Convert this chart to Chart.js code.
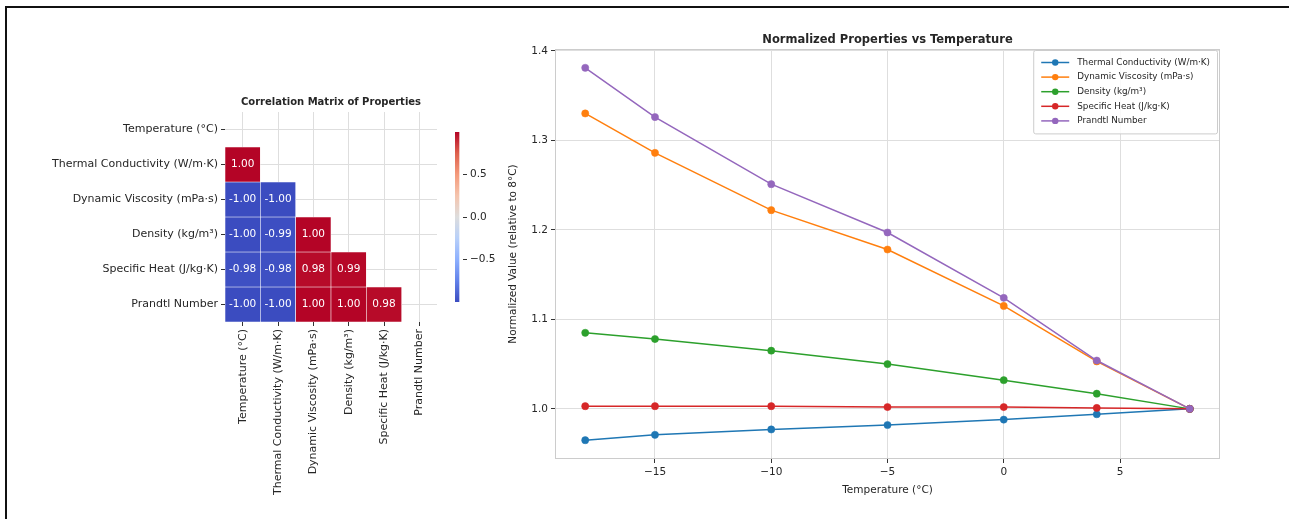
<!DOCTYPE html>
<html>
<head>
<meta charset="utf-8">
<script src="https://cdn.jsdelivr.net/npm/chart.js@4.4.1/dist/chart.umd.min.js"></script>
<style>
  html, body { margin: 0; padding: 0; background: #fff; }
  #page { position: relative; width: 1289px; height: 519px; overflow: hidden; }
  #frame { position: absolute; left: 5px; top: 6px; width: 1300px; height: 530px;
           border-top: 2px solid #111; border-left: 2px solid #111; }
  canvas { position: absolute; }
</style>
</head>
<body>
<div id="page">
  <div id="frame"></div>
  <canvas id="heatmap" width="400" height="417" style="left:40px;top:85px"></canvas>
  <canvas id="colorbar" width="45" height="190" style="left:450px;top:122px"></canvas>
  <canvas id="lines" width="735" height="480" style="left:500px;top:20px"></canvas>
</div>
<script>
// ---- data ----
const props = ['Temperature (°C)', 'Thermal Conductivity (W/m·K)', 'Dynamic Viscosity (mPa·s)',
               'Density (kg/m³)', 'Specific Heat (J/kg·K)', 'Prandtl Number'];

// lower triangle of the correlation matrix (diagonal masked)
const corrThermal = [1.00];
const corrViscosity = [-1.00, -1.00];
const corrDensity = [-1.00, -0.99, 1.00];
const corrSpecificHeat = [-0.98, -0.98, 0.98, 0.99];
const corrPrandtl = [-1.00, -1.00, 1.00, 1.00, 0.98];
const corrRows = [[], corrThermal, corrViscosity, corrDensity, corrSpecificHeat, corrPrandtl];
const colorbarTicks = [-0.5, 0.0, 0.5];

const temps = [-18, -15, -10, -5, 0, 4, 8];
const thermalNorm = [0.965, 0.971, 0.977, 0.982, 0.988, 0.994, 1.000];
const viscosityNorm = [1.330, 1.286, 1.222, 1.178, 1.115, 1.053, 1.000];
const densityNorm = [1.085, 1.078, 1.065, 1.050, 1.032, 1.017, 1.000];
const specificHeatNorm = [1.003, 1.003, 1.003, 1.002, 1.002, 1.001, 1.000];
const prandtlNorm = [1.381, 1.326, 1.251, 1.197, 1.124, 1.054, 1.000];
const xTicks = [-15, -10, -5, 0, 5];
const yTicks = [1.0, 1.1, 1.2, 1.3, 1.4];

const seriesLabels = ['Thermal Conductivity (W/m·K)', 'Dynamic Viscosity (mPa·s)', 'Density (kg/m³)',
                      'Specific Heat (J/kg·K)', 'Prandtl Number'];
const seriesValues = [thermalNorm, viscosityNorm, densityNorm, specificHeatNorm, prandtlNorm];
const seriesColors = ['#1f77b4', '#ff7f0e', '#2ca02c', '#d62728', '#9467bd'];

// ---- style helpers ----
Chart.defaults.font.family = '"DejaVu Sans", sans-serif';
Chart.defaults.color = '#262626';
const textColor = '#262626';
const gridColor = '#dedede';
const minus = s => String(s).replace('-', '\u2212');

// matplotlib coolwarm, sampled
const coolwarmStops = [
  [0.0, [59, 76, 192]], [0.125, [98, 130, 234]], [0.25, [141, 176, 254]],
  [0.375, [184, 208, 249]], [0.5, [221, 221, 221]], [0.625, [245, 196, 173]],
  [0.75, [244, 154, 123]], [0.875, [222, 96, 77]], [1.0, [180, 4, 38]]
];
function coolwarm(v, vmin = -1, vmax = 1) {
  const t = Math.min(1, Math.max(0, (v - vmin) / (vmax - vmin)));
  for (let k = 1; k < coolwarmStops.length; k++) {
    const [t1, c1] = coolwarmStops[k];
    const [t0, c0] = coolwarmStops[k - 1];
    if (t <= t1) {
      const f = (t - t0) / (t1 - t0);
      const c = c0.map((a, n) => Math.round(a + (c1[n] - a) * f));
      return `rgb(${c[0]},${c[1]},${c[2]})`;
    }
  }
  return 'rgb(180,4,38)';
}

// title centred over the plot area (matplotlib style)
const axesTitle = {
  id: 'axesTitle',
  afterDraw(chart, args, opts) {
    const { ctx, chartArea } = chart;
    ctx.save();
    ctx.font = `bold ${opts.size}px "DejaVu Sans"`;
    ctx.fillStyle = textColor;
    ctx.textAlign = 'center';
    ctx.textBaseline = 'middle';
    ctx.fillText(opts.text, (chartArea.left + chartArea.right) / 2, chartArea.top - opts.gap);
    ctx.restore();
  }
};

// ---- heatmap ----
const cellLabels = {
  id: 'cellLabels',
  afterDatasetsDraw(chart) {
    const ctx = chart.ctx;
    ctx.save();
    ctx.font = '10.5px "DejaVu Sans"';
    ctx.fillStyle = '#ffffff';
    ctx.textAlign = 'center';
    ctx.textBaseline = 'middle';
    chart.data.datasets.forEach((ds, i) => {
      chart.getDatasetMeta(i).data.forEach((bar, j) => {
        if (j >= ds.corr.length) return;
        ctx.fillText(ds.corr[j].toFixed(2), bar.x, (bar.y + bar.base) / 2);
      });
    });
    ctx.restore();
  }
};

const heatDatasets = corrRows.map((row, i) => ({
  label: props[i],
  corr: row,
  data: props.map((_, j) => j < row.length ? [i - 0.5, i + 0.5] : null),
  backgroundColor: props.map((_, j) => j < row.length ? coolwarm(row[j]) : 'rgba(0,0,0,0)'),
  borderColor: '#ffffff',
  borderWidth: 0.6,
  borderSkipped: false,
  barPercentage: 1,
  categoryPercentage: 1
}));

new Chart(document.getElementById('heatmap'), {
  type: 'bar',
  data: { labels: props, datasets: heatDatasets },
  options: {
    responsive: false,
    animation: false,
    layout: { padding: { top: 27, right: 3 } },
    plugins: {
      legend: { display: false },
      tooltip: { enabled: false },
      axesTitle: { text: 'Correlation Matrix of Properties', size: 10, gap: 10 }
    },
    scales: {
      x: {
        type: 'category',
        stacked: true,
        offset: true,
        grid: { offset: false, color: gridColor, tickColor: '#333', tickLength: 4 },
        border: { display: false },
        ticks: { minRotation: 90, maxRotation: 90, autoSkip: false, padding: 3,
                 font: { size: 11 }, color: textColor },
        afterFit: s => { s.height = 180; }
      },
      y: {
        type: 'linear',
        reverse: true,
        min: -0.5,
        max: 5.5,
        afterBuildTicks: ax => { ax.ticks = props.map((_, i) => ({ value: i })); },
        grid: { color: gridColor, tickColor: '#333', tickLength: 4 },
        border: { display: false },
        ticks: { callback: v => props[v], font: { size: 11 }, color: textColor, padding: 3 },
        afterFit: s => { s.width = 185; }
      }
    }
  },
  plugins: [cellLabels, axesTitle]
});

// ---- colorbar ----
new Chart(document.getElementById('colorbar'), {
  type: 'bar',
  data: {
    labels: [''],
    datasets: [{
      data: [[-1, 1]],
      barPercentage: 1,
      categoryPercentage: 1,
      borderWidth: 0,
      backgroundColor: c => {
        const area = c.chart.chartArea;
        if (!area || !Number.isFinite(area.top) || !Number.isFinite(area.bottom)) return '#dddddd';
        const g = c.chart.ctx.createLinearGradient(0, area.bottom, 0, area.top);
        coolwarmStops.forEach(([t]) => g.addColorStop(t, coolwarm(-1 + 2 * t)));
        return g;
      }
    }]
  },
  options: {
    responsive: false,
    animation: false,
    layout: { padding: { left: 5, top: 10, bottom: 10 } },
    plugins: { legend: { display: false }, tooltip: { enabled: false } },
    scales: {
      x: { display: false, offset: false },
      y: {
        position: 'right',
        min: -1,
        max: 1,
        afterBuildTicks: ax => { ax.ticks = colorbarTicks.map(v => ({ value: v })); },
        grid: { drawOnChartArea: false, tickColor: '#333', tickLength: 4 },
        border: { display: false },
        ticks: { callback: v => minus(v.toFixed(1)), font: { size: 10.5 }, color: textColor, padding: 3 },
        afterFit: s => { s.width = 32; }
      }
    }
  }
});

// ---- normalized properties ----
const plotFrame = {
  id: 'plotFrame',
  beforeDatasetsDraw(chart) {
    const { ctx, chartArea: a } = chart;
    ctx.save();
    ctx.strokeStyle = '#cccccc';
    ctx.lineWidth = 1;
    ctx.strokeRect(a.left + 0.5, a.top + 0.5, a.width - 1, a.height - 1);
    ctx.restore();
  }
};

const insideLegend = {
  id: 'insideLegend',
  afterDraw(chart) {
    const { ctx, chartArea } = chart;
    const rowH = 14.6;
    ctx.save();
    ctx.font = '8.8px "DejaVu Sans"';
    const textW = Math.max(...chart.data.datasets.map(d => ctx.measureText(d.label).width));
    const w = 44 + textW + 7;
    const h = 25 + (chart.data.datasets.length - 1) * rowH;
    const x = chartArea.right - 3 - w;
    const y = chartArea.top + 1;
    ctx.fillStyle = 'rgba(255,255,255,0.85)';
    ctx.strokeStyle = '#cccccc';
    ctx.lineWidth = 1;
    ctx.beginPath();
    ctx.roundRect(x + 0.5, y + 0.5, w, h, 2);
    ctx.fill();
    ctx.stroke();
    chart.data.datasets.forEach((ds, i) => {
      const cy = y + 12.5 + i * rowH;
      ctx.strokeStyle = ds.borderColor;
      ctx.lineWidth = 1.5;
      ctx.beginPath();
      ctx.moveTo(x + 8, cy);
      ctx.lineTo(x + 36, cy);
      ctx.stroke();
      ctx.fillStyle = ds.borderColor;
      ctx.beginPath();
      ctx.arc(x + 22, cy, 3.2, 0, Math.PI * 2);
      ctx.fill();
      ctx.fillStyle = textColor;
      ctx.textAlign = 'left';
      ctx.textBaseline = 'middle';
      ctx.fillText(ds.label, x + 44, cy);
    });
    ctx.restore();
  }
};

new Chart(document.getElementById('lines'), {
  type: 'line',
  data: {
    datasets: seriesLabels.map((label, i) => ({
      label,
      data: temps.map((t, k) => ({ x: t, y: seriesValues[i][k] })),
      borderColor: seriesColors[i],
      backgroundColor: seriesColors[i],
      borderWidth: 1.5,
      pointRadius: 3.6,
      pointBorderWidth: 0.5,
      order: seriesLabels.length - i,
      tension: 0
    }))
  },
  options: {
    responsive: false,
    animation: false,
    layout: { padding: { top: 29, right: 15 } },
    plugins: {
      legend: { display: false },
      tooltip: { enabled: false },
      axesTitle: { text: 'Normalized Properties vs Temperature', size: 11.5, gap: 9 }
    },
    scales: {
      x: {
        type: 'linear',
        min: -19.3,
        max: 9.3,
        afterBuildTicks: ax => { ax.ticks = xTicks.map(v => ({ value: v })); },
        grid: { color: gridColor, tickColor: '#333', tickLength: 4 },
        border: { display: false },
        ticks: { callback: v => minus(v), font: { size: 10.5 }, color: textColor, padding: 3 },
        title: { display: true, text: 'Temperature (°C)', font: { size: 10.5 }, color: textColor,
                 padding: { top: 2, bottom: 3 } },
        afterFit: s => { s.height = 41; }
      },
      y: {
        type: 'linear',
        min: 0.944,
        max: 1.402,
        afterBuildTicks: ax => { ax.ticks = yTicks.map(v => ({ value: v })); },
        grid: { color: gridColor, tickColor: '#333', tickLength: 4 },
        border: { display: false },
        ticks: { callback: v => v.toFixed(1), font: { size: 10.5 }, color: textColor, padding: 3 },
        title: { display: true, text: 'Normalized Value (relative to 8°C)', font: { size: 10.5 },
                 color: textColor, padding: { top: 7, bottom: 2 } },
        afterFit: s => { s.width = 55; }
      }
    }
  },
  plugins: [plotFrame, insideLegend, axesTitle]
});
</script>
</body>
</html>
